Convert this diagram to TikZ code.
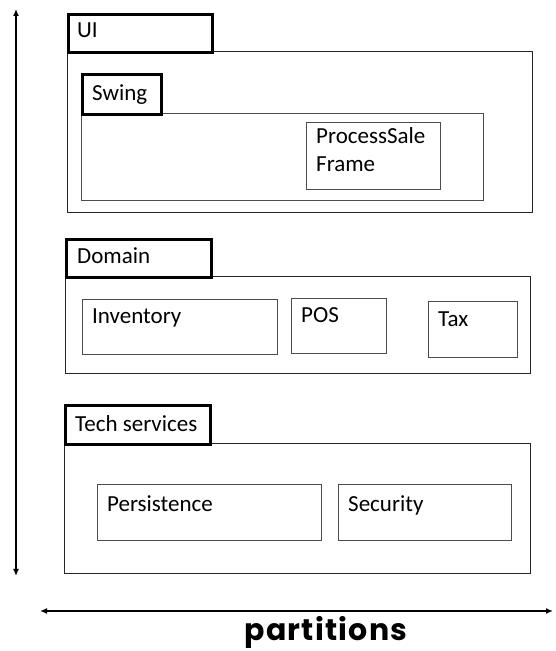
\documentclass[tikz,border=0pt]{standalone}
\usepackage{fontspec}
\setmainfont{Carlito}
\newfontfamily\partfont{Poppins}[UprightFont=* Bold, LetterSpace=4]
\usetikzlibrary{arrows.meta}
\tikzset{
  tabbox/.style={draw=black, line width=2.6pt, anchor=north west, inner sep=0pt},
  outerbox/.style={draw=black!85, line width=1.4pt, anchor=north west, inner sep=0pt},
  innerbox/.style={draw=black!70, line width=1pt, anchor=north west, inner sep=0pt},
  lbl/.style={anchor=base west, inner sep=0pt, font=\fontsize{23}{28}\selectfont},
  axis/.style={line width=1.4pt, {Latex[length=7pt,width=6pt]}-{Latex[length=7pt,width=6pt]}}
}
\newcommand{\bx}[6]{% style, name, x1, y1, x2, y2 (pixel coords, y down)
  \node[#1, minimum width={(#5-#3)*1pt}, minimum height={(#6-#4)*1pt}] (#2) at (#3pt,{(651-#4)*1pt}) {};}
\begin{document}
\begin{tikzpicture}[x=1pt,y=1pt]
\useasboundingbox (0,0) rectangle (556,651);
% UI
\bx{outerbox}{uibox}{67}{51}{532}{212}
\bx{tabbox}{uitab}{67}{13}{211}{51}
\node[lbl] (uit) at (77,{651-38}) {UI};
\bx{innerbox}{swbox}{81}{113}{483}{200}
\bx{tabbox}{swtab}{81}{73}{160}{113}
\node[lbl] (swt) at (92,{651-101}) {Swing};
\bx{innerbox}{psf}{306}{122}{440}{189}
\node[lbl, align=left, anchor=north west] (psft) at (316,{651-127}) {ProcessSale\\Frame};
% Domain
\bx{outerbox}{dombox}{65}{276}{530}{373}
\bx{tabbox}{domtab}{65}{238}{210}{276}
\node[lbl] (domt) at (77,{651-264}) {Domain};
\bx{innerbox}{inv}{82}{299}{277}{354}
\node[lbl] (invt) at (92,{651-324}) {Inventory};
\bx{innerbox}{pos}{291}{298}{386}{353}
\node[lbl] (post) at (301,{651-323}) {POS};
\bx{innerbox}{tax}{428}{301}{517}{357}
\node[lbl] (taxt) at (438,{651-327}) {Tax};
% Tech services
\bx{outerbox}{tsbox}{64}{443}{530}{573}
\bx{tabbox}{tstab}{64}{404}{209}{443}
\node[lbl] (tst) at (75,{651-432}) {Tech services};
\bx{innerbox}{per}{97}{484}{321}{540}
\node[lbl] (pert) at (107,{651-512}) {Persistence};
\bx{innerbox}{sec}{338}{484}{511}{540}
\node[lbl] (sect) at (348,{651-512}) {Security};
% axes
\coordinate (vtop) at (16,{651-9});
\coordinate (vbot) at (16,{651-576});
\draw[axis] (vbot) -- (vtop);
\coordinate (hl) at (40,{651-611});
\coordinate (hr) at (553,{651-611});
\draw[axis] (hl) -- (hr);
\node[anchor=base, inner sep=0pt, font=\partfont\fontsize{30}{34}\selectfont] (part) at (326,{651-641}) {partitions};
\end{tikzpicture}
\end{document}
